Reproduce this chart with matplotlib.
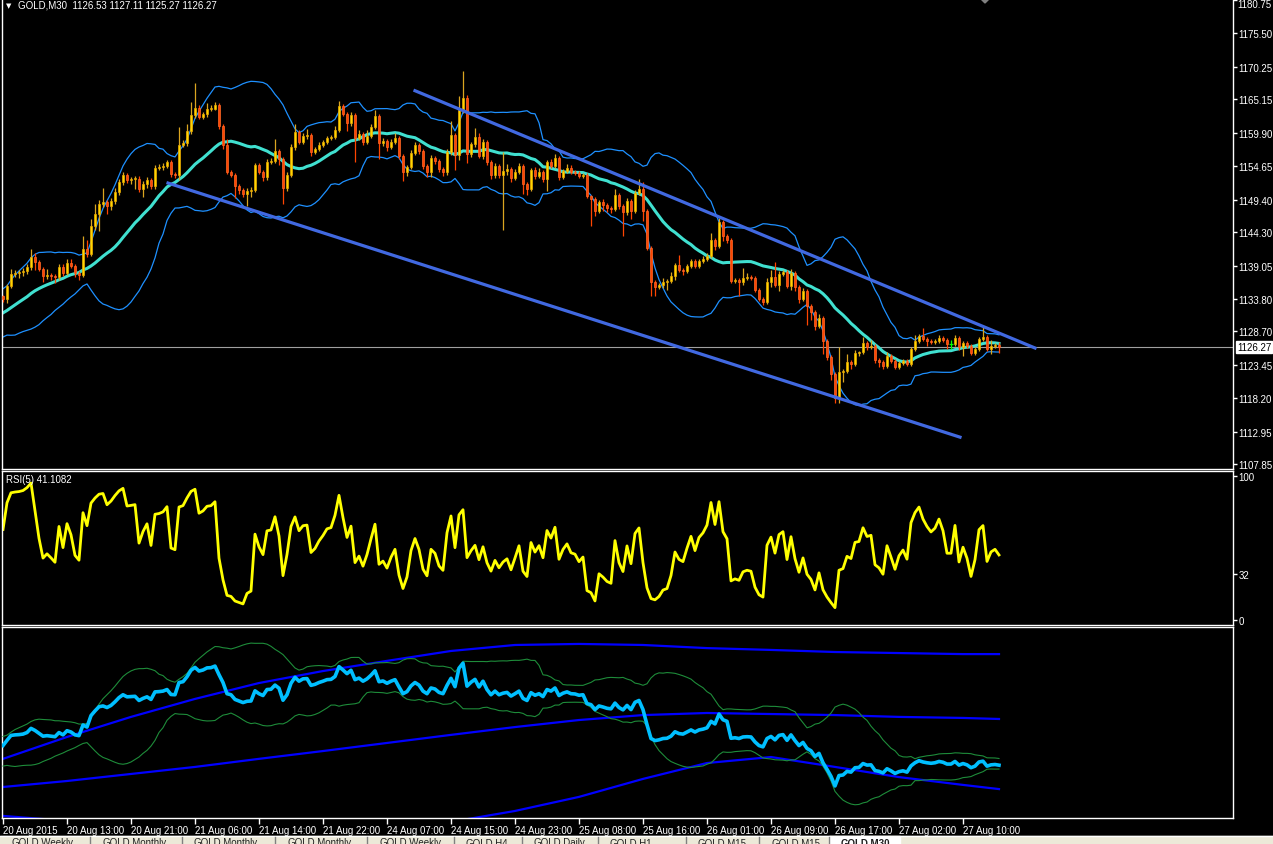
import numpy as np
import pandas as pd
import matplotlib
matplotlib.use('Agg')
import matplotlib.pyplot as plt
from matplotlib.patches import Rectangle, Polygon

# ─────────────────────────────────────────
#  GOLD M30
# ─────────────────────────────────────────
# closes before the first visible bar (only used to warm up the indicators)
prior_close = [1128.2, 1128.9, 1129.5, 1129.0, 1129.8, 1130.4, 1130.1, 1131.0, 1131.6, 1131.2,
               1132.0, 1132.5, 1132.1, 1133.0, 1133.4, 1133.1, 1134.0, 1134.5, 1134.2]

close = [
    1133.8, 1135.8, 1137.7, 1137.9, 1138.0, 1138.2, 1138.8, 1140.4, 1139.6, 1138.5,
    1137.4, 1137.6, 1137.4, 1137.2, 1138.8, 1137.9, 1139.5, 1139.0, 1137.9, 1137.6,
    1141.7, 1140.9, 1145.3, 1147.1, 1148.7, 1149.0, 1148.4, 1149.2, 1150.6, 1152.2,
    1153.3, 1152.5, 1152.6, 1152.7, 1151.1, 1151.9, 1152.5, 1151.5, 1154.4, 1154.5,
    1154.7, 1155.3, 1153.4, 1153.3, 1158.0, 1158.3, 1160.2, 1162.7, 1163.8, 1162.4,
    1162.8, 1163.6, 1163.7, 1164.3, 1161.0, 1158.0, 1153.7, 1153.3, 1151.5, 1150.9,
    1150.3, 1150.8, 1150.9, 1154.8, 1153.7, 1153.0, 1155.3, 1155.4, 1157.0, 1155.8,
    1151.2, 1153.3, 1157.7, 1160.0, 1158.5, 1159.4, 1159.5, 1156.9, 1157.3, 1158.0,
    1158.5, 1159.1, 1159.2, 1160.3, 1164.1, 1162.8, 1161.4, 1162.7, 1159.1, 1159.7,
    1158.5, 1159.4, 1160.8, 1162.5, 1158.3, 1158.6, 1157.7, 1158.5, 1159.1, 1156.3,
    1153.7, 1154.5, 1156.7, 1158.0, 1157.0, 1154.7, 1153.7, 1155.9, 1155.5, 1154.2,
    1153.7, 1156.9, 1159.6, 1156.4, 1163.5, 1165.4, 1156.6, 1158.1, 1159.2, 1156.3,
    1158.5, 1155.3, 1153.3, 1154.7, 1153.3, 1153.9, 1154.2, 1152.8, 1153.7, 1154.7,
    1151.9, 1151.1, 1154.1, 1153.1, 1153.7, 1152.6, 1155.3, 1154.7, 1155.9, 1153.0,
    1153.9, 1154.4, 1153.7, 1153.6, 1153.1, 1153.3, 1149.9, 1149.5, 1147.6, 1149.0,
    1148.6, 1148.1, 1147.9, 1150.1, 1148.4, 1147.5, 1149.2, 1147.6, 1150.4, 1151.1,
    1147.6, 1141.8, 1136.5, 1135.7, 1136.0, 1136.5, 1136.6, 1137.4, 1139.1, 1138.4,
    1138.2, 1139.0, 1139.8, 1139.0, 1139.8, 1140.1, 1140.6, 1143.1, 1142.1, 1145.9,
    1143.7, 1143.1, 1136.6, 1136.8, 1136.5, 1137.1, 1137.2, 1137.1, 1135.2, 1133.8,
    1133.3, 1136.5, 1137.3, 1136.0, 1137.7, 1138.0, 1135.8, 1137.9, 1135.7, 1133.8,
    1135.0, 1132.7, 1131.8, 1129.6, 1130.8, 1127.2, 1124.7, 1122.0, 1118.3, 1122.3,
    1122.5, 1123.9, 1123.6, 1125.3, 1125.4, 1126.9, 1126.3, 1126.4, 1124.2, 1123.9,
    1123.3, 1124.9, 1124.1, 1123.1, 1123.8, 1124.1, 1123.6, 1126.0, 1127.2, 1128.0,
    1127.5, 1127.2, 1127.0, 1127.2, 1127.7, 1127.4, 1126.7, 1126.7, 1127.7, 1126.3,
    1126.9, 1126.4, 1125.3, 1125.9, 1127.5, 1127.8, 1125.9, 1126.4, 1126.53, 1126.27,
]

# wick lengths above / below the candle body
upper_wick = [
    0.3, 0.3, 0.8, 0.5, 0.3, 0.4, 0.5, 1.3, 0.6, 0.3,
    0.3, 0.9, 0.3, 0.3, 0.5, 0.5, 0.6, 0.5, 0.3, 0.3,
    2.0, 1.3, 1.0, 1.6, 0.6, 2.3, 0.3, 0.5, 0.6, 0.4,
    0.4, 0.3, 0.4, 0.4, 0.4, 0.5, 0.4, 0.3, 0.5, 0.5,
    0.5, 0.3, 0.3, 0.3, 2.8, 0.5, 1.0, 2.0, 3.9, 0.4,
    0.4, 1.0, 0.6, 0.5, 0.3, 0.3, 0.9, 0.3, 0.3, 0.3,
    0.3, 0.5, 0.5, 0.3, 0.3, 0.3, 0.5, 0.5, 1.9, 0.3,
    0.3, 0.5, 0.4, 1.3, 0.4, 0.4, 1.0, 0.3, 0.3, 0.4,
    0.3, 0.3, 0.3, 0.6, 0.8, 0.3, 0.3, 0.4, 0.3, 0.6,
    0.3, 1.0, 0.4, 1.0, 0.3, 0.5, 0.3, 0.4, 0.8, 0.3,
    0.3, 0.3, 0.5, 0.5, 0.3, 0.3, 0.3, 0.5, 0.3, 0.3,
    0.3, 0.5, 2.2, 0.3, 2.2, 4.2, 0.5, 0.3, 1.5, 0.6,
    0.4, 0.3, 0.3, 0.5, 0.3, 3.0, 0.8, 0.3, 0.5, 0.5,
    0.3, 0.3, 0.3, 0.4, 0.6, 0.3, 0.3, 0.5, 0.6, 0.3,
    0.3, 0.6, 0.4, 0.3, 0.3, 0.3, 0.3, 0.3, 0.3, 0.3,
    0.5, 0.3, 0.3, 1.0, 0.3, 0.3, 0.5, 0.3, 0.5, 1.6,
    1.0, 0.3, 0.3, 0.3, 0.3, 0.6, 0.3, 0.6, 0.3, 1.6,
    0.3, 0.3, 0.3, 0.3, 0.3, 0.4, 0.4, 1.0, 0.3, 0.6,
    0.3, 0.3, 0.3, 0.3, 0.3, 1.6, 0.6, 0.3, 0.3, 0.3,
    0.3, 0.6, 1.0, 2.3, 0.5, 0.3, 0.3, 0.6, 0.3, 0.3,
    0.5, 0.3, 0.3, 0.3, 0.6, 0.3, 0.3, 0.3, 0.3, 4.0,
    0.3, 1.3, 0.3, 0.5, 0.3, 1.0, 0.3, 1.0, 0.3, 0.3,
    0.3, 0.6, 0.3, 0.3, 0.3, 0.3, 0.3, 0.3, 1.0, 0.3,
    1.2, 0.3, 0.3, 0.3, 0.5, 0.3, 0.3, 0.7, 0.5, 0.3,
    0.3, 0.3, 0.3, 0.3, 0.3, 1.8, 0.3, 1.0, 0.3, 0.58,
]
lower_wick = [
    0.5, 0.6, 0.3, 0.5, 0.8, 0.6, 0.5, 0.4, 1.2, 0.3,
    0.9, 0.5, 0.6, 0.9, 0.4, 0.5, 0.3, 0.4, 0.6, 0.8,
    0.3, 0.5, 0.3, 0.6, 2.7, 0.5, 1.3, 0.6, 0.5, 0.5,
    0.5, 0.5, 0.6, 1.5, 0.5, 1.3, 0.6, 0.4, 0.5, 0.4,
    0.4, 0.4, 0.5, 0.5, 0.8, 0.3, 0.5, 0.5, 0.5, 0.4,
    0.3, 0.4, 0.3, 0.3, 0.5, 0.6, 0.3, 0.4, 1.8, 0.6,
    0.5, 1.9, 1.0, 0.3, 0.3, 0.6, 0.5, 0.3, 0.3, 1.0,
    2.5, 0.4, 0.4, 0.5, 0.4, 0.4, 0.5, 0.6, 0.3, 0.3,
    0.3, 0.4, 0.3, 0.3, 0.3, 0.3, 1.2, 0.4, 3.8, 0.4,
    0.5, 0.4, 0.4, 0.3, 2.5, 0.5, 0.6, 0.4, 0.3, 0.5,
    1.3, 0.6, 0.3, 0.3, 0.5, 0.5, 0.8, 0.8, 0.5, 0.5,
    0.6, 0.5, 0.5, 2.3, 0.8, 0.5, 1.5, 0.5, 0.5, 0.4,
    0.5, 0.5, 0.6, 0.5, 0.5, 8.6, 0.6, 0.6, 0.3, 0.3,
    1.6, 1.0, 0.3, 0.4, 0.3, 0.5, 1.8, 0.3, 0.3, 0.5,
    0.3, 0.3, 0.3, 0.3, 0.3, 0.3, 0.3, 4.2, 0.8, 0.3,
    1.0, 0.6, 0.6, 0.3, 0.5, 3.8, 0.5, 1.3, 0.3, 0.3,
    1.5, 0.3, 2.2, 1.5, 0.3, 0.5, 1.3, 0.3, 0.6, 0.3,
    0.6, 0.3, 0.3, 0.3, 0.3, 0.3, 0.3, 0.3, 0.6, 0.3,
    0.8, 0.5, 0.3, 0.3, 2.3, 0.5, 0.3, 0.3, 0.3, 0.3,
    0.5, 0.3, 0.8, 0.3, 1.0, 0.3, 0.3, 0.6, 0.6, 0.6,
    0.3, 3.0, 1.3, 0.6, 0.3, 2.0, 0.5, 1.0, 0.8, 0.8,
    1.5, 0.3, 0.8, 0.3, 0.5, 0.3, 0.5, 0.3, 0.5, 0.8,
    0.5, 0.3, 0.3, 0.3, 0.3, 0.3, 0.3, 0.3, 0.3, 0.3,
    0.3, 0.8, 0.3, 0.3, 0.3, 0.3, 0.8, 0.7, 0.3, 0.5,
    1.5, 0.3, 0.3, 0.3, 0.3, 0.3, 0.3, 0.8, 0.3, 1.0,
]

price_ticks = [1180.75, 1175.50, 1170.25, 1165.15, 1159.90, 1154.65, 1149.40, 1144.30,
               1139.05, 1133.80, 1128.70, 1123.45, 1118.20, 1112.95, 1107.85]
last_price = 1126.27

time_labels = ["20 Aug 2015", "20 Aug 13:00", "20 Aug 21:00", "21 Aug 06:00", "21 Aug 14:00",
               "21 Aug 22:00", "24 Aug 07:00", "24 Aug 15:00", "24 Aug 23:00", "25 Aug 08:00",
               "25 Aug 16:00", "26 Aug 01:00", "26 Aug 09:00", "26 Aug 17:00", "27 Aug 02:00",
               "27 Aug 10:00"]

# trend lines (bar index, price)
trend_upper_bar = [103.0, 258.0]
trend_upper_px = [1166.5, 1126.1]
trend_lower_bar = [41.25, 239.25]
trend_lower_px = [1152.0, 1112.1]

# long period bands in the lower window (sampled every 16 bars)
band_bar = [0, 16, 32, 48, 64, 80, 96, 112, 128, 144, 160, 176, 192, 208, 224, 240, 249]
band_top = [1128.7, 1137.1, 1144.8, 1151.7, 1157.8, 1162.4, 1166.3, 1170.1, 1172.4, 1172.8,
            1172.4, 1171.2, 1170.5, 1169.7, 1169.3, 1168.9, 1168.9]
band_mid = [1117.9, 1120.2, 1122.9, 1125.6, 1128.7, 1131.7, 1134.8, 1137.9, 1140.9, 1143.6,
            1145.5, 1146.3, 1145.9, 1145.5, 1144.8, 1144.4, 1144.0]
band_bot = [1106.8, 1104.9, 1103.3, 1102.2, 1101.4, 1101.0, 1101.8, 1104.5, 1108.7, 1114.1,
            1121.0, 1127.1, 1129.4, 1125.6, 1121.7, 1118.7, 1117.1]

tab_names = ["GOLD,Weekly", "GOLD,Monthly", "GOLD,Monthly", "GOLD,Monthly", "GOLD,Weekly",
             "GOLD,H4", "GOLD,Daily", "GOLD,H1", "GOLD,M15", "GOLD,M15", "GOLD,M30"]
tab_edges = [0, 90, 182, 275, 367, 454, 522, 598, 686, 759, 829, 900]

# ─────────────────────────────────────────
#  indicators
# ─────────────────────────────────────────
n_prior = len(prior_close)
series = pd.Series(prior_close + close)
ma20 = series.rolling(20).mean().to_numpy()[n_prior:]
sd20 = series.rolling(20).std(ddof=0).to_numpy()[n_prior:]
bb_up = ma20 + 2 * sd20
bb_dn = ma20 - 2 * sd20
wide_up = ma20 + 3 * sd20
wide_dn = ma20 - 3 * sd20


def rsi(vals, n):
    vals = np.asarray(vals, float)
    d = np.diff(vals)
    up = np.where(d > 0, d, 0.0)
    dn = np.where(d < 0, -d, 0.0)
    out = np.full(len(vals), np.nan)
    au, ad = up[:n].mean(), dn[:n].mean()
    out[n] = 100.0 if ad == 0 else 100 - 100 / (1 + au / ad)
    for k in range(n, len(d)):
        au = (au * (n - 1) + up[k]) / n
        ad = (ad * (n - 1) + dn[k]) / n
        out[k + 1] = 100.0 if ad == 0 else 100 - 100 / (1 + au / ad)
    return out


rsi5 = rsi(prior_close + close, 5)[n_prior:]

close_a = np.array(close)
open_a = np.array([prior_close[-1]] + close[:-1])
high_a = np.maximum(open_a, close_a) + np.array(upper_wick)
low_a = np.minimum(open_a, close_a) - np.array(lower_wick)
bars = np.arange(len(close))

# ─────────────────────────────────────────
#  figure layout (pixel based, MT4 look)
# ─────────────────────────────────────────
W, H = 1273, 845
fig = plt.figure(figsize=(W / 100, H / 100), dpi=100, facecolor='black')
plt.rcParams['font.family'] = ['Liberation Sans', 'DejaVu Sans']


def px_axes(x0, y0, x1, y1):
    ax = fig.add_axes([x0 / W, 1 - y1 / H, (x1 - x0) / W, (y1 - y0) / H])
    ax.set_facecolor('black')
    for s in ax.spines.values():
        s.set_color('white')
        s.set_linewidth(1.0)
    ax.set_xlim(-0.25, 307.5)
    ax.yaxis.tick_right()
    ax.tick_params(axis='y', colors='white', labelcolor='white', labelsize=7,
                   length=3, width=1, pad=1, direction='out')
    ax.tick_params(axis='x', bottom=False, labelbottom=False)
    return ax


ax = px_axes(2, 0, 1233, 470)
ax_rsi = px_axes(2, 472, 1233, 626)
ax_low = px_axes(2, 628, 1233, 819)

# ── main window ──
ax.set_ylim(1107.1, 1180.9)
ax.spines['top'].set_visible(False)
ax.set_yticks(price_ticks)
# the top label sits on the window edge: draw it a bit lower by hand
ax.set_yticklabels([""] + [f"{v:.2f}" for v in price_ticks[1:]])
fig.text(1237 / W, 1 - 5 / H, f"{price_ticks[0]:.2f}", color='white', fontsize=7,
         va='center', ha='left')

ax.axhline(last_price, color='#A0A0A0', lw=0.8, zorder=1)

ax.plot(bars, bb_up, color='#1E90FF', lw=0.9, zorder=2)
ax.plot(bars, bb_dn, color='#1E90FF', lw=0.9, zorder=2)
ax.plot(bars, ma20, color='#40E0D0', lw=2.2, zorder=2)

bull = close_a > open_a
bear = close_a < open_a
doji = close_a == open_a
ax.vlines(bars[bull], low_a[bull], high_a[bull], color='#DAA520', lw=0.9, zorder=3)
ax.vlines(bars[bear], low_a[bear], high_a[bear], color='#FF4500', lw=0.9, zorder=3)
ax.vlines(bars[doji], low_a[doji], high_a[doji], color='#00FF00', lw=0.9, zorder=3)
ax.hlines(close_a[doji], bars[doji] - 0.4, bars[doji] + 0.4, color='#00FF00', lw=0.9, zorder=3)
body_lo = np.minimum(open_a, close_a)
body_h = np.maximum(np.abs(close_a - open_a), 0.12)
ax.bar(bars[bull], body_h[bull], bottom=body_lo[bull], width=0.72,
       color='#FFD700', edgecolor='#E8A800', lw=0.5, zorder=4)
ax.bar(bars[bear], body_h[bear], bottom=body_lo[bear], width=0.72,
       color='#FF4500', edgecolor='#FF6A2A', lw=0.5, zorder=4)

ax.plot(trend_upper_bar, trend_upper_px, color='#4169E1', lw=2.3, zorder=5)
ax.plot(trend_lower_bar, trend_lower_px, color='#4169E1', lw=2.3, zorder=5)

ax.annotate(f"{last_price:.2f}", xy=(1.0, last_price), xycoords=('axes fraction', 'data'),
            xytext=(4, 0), textcoords='offset pixels', va='center', ha='left',
            fontsize=7, color='black', annotation_clip=False,
            bbox=dict(boxstyle='square,pad=0.12', fc='white', ec='white'))

fig.text(18 / W, 1 - 6 / H, "GOLD,M30  1126.53 1127.11 1125.27 1126.27",
         color='white', fontsize=7, va='center', ha='left')
fig.text(6 / W, 1 - 6 / H, "▼", color='white', fontsize=5, va='center', ha='left',
         family='DejaVu Sans')
fig.patches.append(Polygon([[981 / W, 1.0], [989 / W, 1.0], [985 / W, 1 - 4 / H]],
                           closed=True, transform=fig.transFigure, color='#808080'))

# ── RSI window ──
ax_rsi.set_ylim(-3.5, 103.5)
ax_rsi.set_yticks([0, 32, 100])
ax_rsi.set_yticklabels(["0", "32", "100"])
ax_rsi.plot(bars, rsi5, color='#FFFF00', lw=2.0)
fig.text(6 / W, 1 - 480 / H, "RSI(5) 41.1082", color='white', fontsize=7,
         va='center', ha='left')

# ── lower window ──
ax_low.set_ylim(1106.0, 1179.3)
ax_low.set_yticks([])
ax_low.plot(band_bar, band_top, color='#0000FF', lw=1.6, zorder=2)
ax_low.plot(band_bar, band_mid, color='#0000FF', lw=1.6, zorder=2)
ax_low.plot(band_bar, band_bot, color='#0000FF', lw=1.6, zorder=2)
ax_low.plot(bars, wide_up, color='#1E8C3A', lw=0.8, zorder=3)
ax_low.plot(bars, wide_dn, color='#1E8C3A', lw=0.8, zorder=3)
ax_low.plot(bars, close_a, color='#00BFFF', lw=2.6, zorder=4)

tick_bars = np.arange(0, 16 * len(time_labels), 16)
ax_low.set_xticks(tick_bars)
ax_low.set_xticklabels(time_labels)
ax_low.tick_params(axis='x', bottom=True, labelbottom=True, colors='white', labelcolor='white',
                   labelsize=7, length=4, width=1, pad=1, direction='out')
for lab in ax_low.get_xticklabels():
    lab.set_horizontalalignment('left')

# ── tab bar at the very bottom ──
fig.patches.append(Rectangle((0, 0), 1, 8 / H, transform=fig.transFigure,
                             color='#ECE9D8', zorder=0))
fig.patches.append(Rectangle((tab_edges[-2] / W, 0), (tab_edges[-1] - tab_edges[-2]) / W, 8 / H,
                             transform=fig.transFigure, color='white', zorder=1))
fig.add_artist(plt.Line2D([0, 1], [8 / H, 8 / H], transform=fig.transFigure,
                          color='#FFFFFF', lw=1))
for k, name in enumerate(tab_names):
    x0 = tab_edges[k]
    if k > 0:
        fig.add_artist(plt.Line2D([x0 / W, x0 / W], [0, 7 / H], transform=fig.transFigure,
                                  color='#808080', lw=1))
    fig.text((x0 + 12) / W, 1.5 / H, name, color='#202020', fontsize=7, va='center',
             ha='left', fontweight='bold' if k == len(tab_names) - 1 else 'normal')

fig.savefig('out.png', dpi=100, facecolor='black')
